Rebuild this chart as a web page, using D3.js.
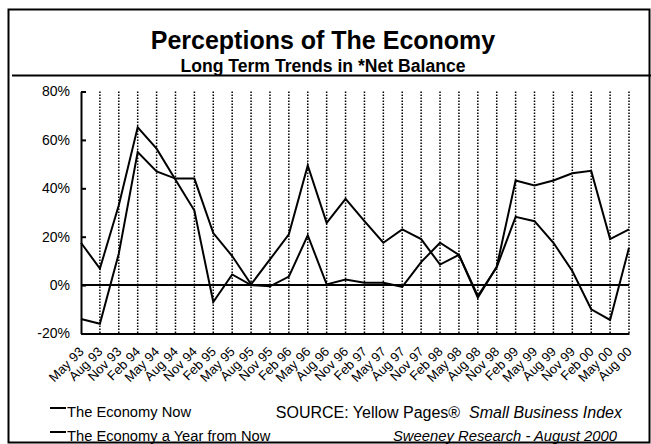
<!DOCTYPE html>
<html>
<head>
<meta charset="utf-8">
<script src="https://cdn.jsdelivr.net/npm/d3@7/dist/d3.min.js"></script>
<style>
  html, body { margin: 0; padding: 0; background: #fff; }
  svg { display: block; font-family: "Liberation Sans", Arial, sans-serif; }
</style>
</head>
<body>
<svg id="chart" width="651" height="444"></svg>
<script>
// Quarterly survey periods
const periods = [
  "May 93", "Aug 93", "Nov 93",
  "Feb 94", "May 94", "Aug 94", "Nov 94",
  "Feb 95", "May 95", "Aug 95", "Nov 95",
  "Feb 96", "May 96", "Aug 96", "Nov 96",
  "Feb 97", "May 97", "Aug 97", "Nov 97",
  "Feb 98", "May 98", "Aug 98", "Nov 98",
  "Feb 99", "May 99", "Aug 99", "Nov 99",
  "Feb 00", "May 00", "Aug 00"
];

// Net balance (%) for each series
const economyNow = [
  -14, -16, 13,
  55, 47, 44, 44,
  21.5, 12, 0.3, 10.6,
  21, 49.4, 25.7, 35.6,
  26.4, 17.5, 23, 19,
  8.5, 12.5, -5.2, 7.6,
  43.2, 41.2, 43.2, 46.2,
  47.2, 19, 23
];
const economyYearFromNow = [
  17.5, 6.8, 33,
  65.2, 56.4, 43.5, 30.8,
  -7, 4.4, 0, -0.5,
  3.5, 20.6, 0.3, 2.3,
  1, 1, -0.7, 9.5,
  17.5, 12.5, -4.5, 7.4,
  28.2, 26.4, 17.5, 5.8,
  -10, -14.4, 15.4
];

const yTicks = [80, 60, 40, 20, 0, -20];

const svg = d3.select("#chart");

// Outer frame
svg.append("rect")
  .attr("x", 8.5).attr("y", 9.5)
  .attr("width", 641).attr("height", 433)
  .attr("fill", "none").attr("stroke", "#000").attr("stroke-width", 2);

// Titles
svg.append("text")
  .attr("x", 323).attr("y", 49)
  .attr("text-anchor", "middle")
  .attr("font-size", 25).attr("font-weight", "bold")
  .text("Perceptions of The Economy");
svg.append("text")
  .attr("x", 323).attr("y", 72)
  .attr("text-anchor", "middle")
  .attr("font-size", 17.6).attr("font-weight", "bold")
  .text("Long Term Trends in *Net Balance");
svg.append("line")
  .attr("x1", 12).attr("x2", 651)
  .attr("y1", 75.5).attr("y2", 75.5)
  .attr("stroke", "#000").attr("stroke-width", 2);

// Scales
const x = d3.scalePoint().domain(periods).range([81, 629]);
const y = d3.scaleLinear().domain([-20, 80]).range([333.5, 91.5]);

// Dotted verticals at each period
svg.append("g")
  .selectAll("line")
  .data(periods.slice(1))
  .join("line")
  .attr("x1", d => x(d)).attr("x2", d => x(d))
  .attr("y1", y(80)).attr("y2", y(-20))
  .attr("stroke", "#000").attr("stroke-width", 1.5)
  .attr("stroke-dasharray", "1.5,1.5");

// Y axis
const yAxis = svg.append("g")
  .attr("transform", `translate(${x(periods[0])},0)`)
  .call(d3.axisLeft(y)
    .tickValues(yTicks)
    .tickSizeInner(-5)
    .tickSizeOuter(0)
    .tickPadding(11)
    .tickFormat(d => d + "%"));
yAxis.select(".domain").attr("stroke-width", 2);
yAxis.selectAll(".tick line").attr("stroke-width", 2);
yAxis.selectAll("text")
  .attr("font-size", 14).attr("fill", "#000")
  .attr("font-family", "Liberation Sans, Arial, sans-serif");

// X axis
const xAxis = svg.append("g")
  .attr("transform", `translate(0,${y(-20)})`)
  .call(d3.axisBottom(x).tickSize(0).tickPadding(0));
xAxis.select(".domain").attr("stroke-width", 2);
xAxis.selectAll("text")
  .attr("font-size", 13).attr("fill", "#000")
  .attr("font-family", "Liberation Sans, Arial, sans-serif")
  .attr("text-anchor", "end")
  .attr("y", 0)
  .attr("dy", null)
  .attr("transform", "translate(3,19) rotate(-45)");

// Zero line
svg.append("line")
  .attr("x1", x(periods[0])).attr("x2", x(periods[periods.length - 1]))
  .attr("y1", y(0)).attr("y2", y(0))
  .attr("stroke", "#000").attr("stroke-width", 2);

// Series lines
const line = d3.line()
  .x((d, i) => x(periods[i]))
  .y(d => y(d));
[economyNow, economyYearFromNow].forEach(series => {
  svg.append("path")
    .datum(series)
    .attr("d", line)
    .attr("fill", "none")
    .attr("stroke", "#000")
    .attr("stroke-width", 2)
    .attr("stroke-linejoin", "miter");
});

// Legend
const legendNames = ["The Economy Now", "The Economy a Year from Now"];
const legend = svg.append("g");
legendNames.forEach((name, i) => {
  const by = 417 + i * 24;
  legend.append("line")
    .attr("x1", 50).attr("x2", 66)
    .attr("y1", by - 9).attr("y2", by - 9)
    .attr("stroke", "#000").attr("stroke-width", 2);
  legend.append("text")
    .attr("x", 67).attr("y", by)
    .attr("font-size", 14.7)
    .text(name);
});

// Source note
const src = svg.append("text")
  .attr("x", 622).attr("y", 418)
  .attr("text-anchor", "end")
  .attr("font-size", 16);
src.append("tspan").text("SOURCE: Yellow Pages®\u00a0\u00a0");
src.append("tspan").attr("font-style", "italic").text("Small Business Index");
svg.append("text")
  .attr("x", 617).attr("y", 441)
  .attr("text-anchor", "end")
  .attr("font-size", 14.8)
  .attr("font-style", "italic")
  .text("Sweeney Research - August 2000");
</script>
</body>
</html>
